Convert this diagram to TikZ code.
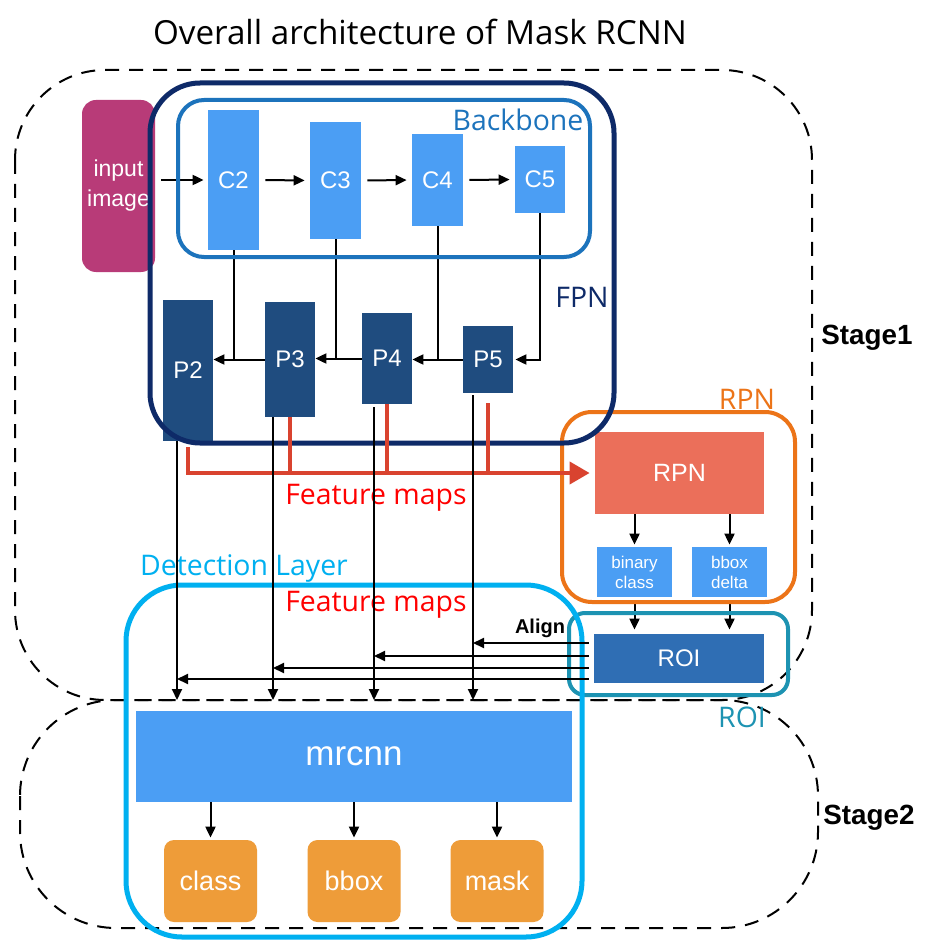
\documentclass[tikz,border=0pt]{standalone}
\usepackage{fontspec}
\setsansfont{Liberation Sans}
\newfontfamily\lblfont{Open Sans}
\usepackage{tikz}
\usetikzlibrary{positioning, arrows.meta, calc}
\definecolor{inPink}{HTML}{B83B78}
\definecolor{fpnNavy}{HTML}{0E2A68}
\definecolor{bbBlue}{HTML}{1C73BC}
\definecolor{cBlue}{HTML}{4B9EF4}
\definecolor{pBlue}{HTML}{1F4C7F}
\definecolor{fmRed}{HTML}{D9432F}
\definecolor{fmText}{HTML}{FF0000}
\definecolor{rpnOrange}{HTML}{EC7418}
\definecolor{rpnSalmon}{HTML}{EB6F5A}
\definecolor{roiBlue}{HTML}{2F6EB4}
\definecolor{roiTeal}{HTML}{1D93B2}
\definecolor{detCyan}{HTML}{00B0F0}
\definecolor{outOrange}{HTML}{EE9C39}

\begin{document}
\begin{tikzpicture}[x=0.5pt, y=-0.5pt, >={Triangle[length=5.5pt,width=5pt]},
  blk/.style={rectangle, inner sep=0pt, text=white, font=\sffamily\fontsize{12}{13}\selectfont},
  cnode/.style={blk, fill=cBlue, minimum width=25.5pt},
  pnode/.style={blk, fill=pBlue, minimum width=25pt},
  grp/.style={rounded corners=#1, line width=2pt},
  stage/.style={draw=black, line width=1pt, dash pattern=on 7pt off 5pt, rounded corners=45pt},
  lbl/.style={font=\lblfont\fontsize{14.2}{16}\selectfont},
  bold/.style={font=\sffamily\bfseries\fontsize{13.9}{16}\selectfont},
  fm/.style={draw=fmRed, line width=2pt},
  link/.style={line width=1pt}]
  \fill[white] (0,0) rectangle (930,941);
  \useasboundingbox (0,0) rectangle (930,941);

  % the two stages
  \draw[stage] (15,70) rectangle (812,700);
  \draw[stage, rounded corners=48pt] (20,700) rectangle (818,928);
  \node[bold] (s1) at (867,338) {Stage1};
  \node[bold] (s2) at (869,818) {Stage2};
  \node[font=\lblfont\fontsize{16.6}{19}\selectfont] (title) at (420,32) {Overall architecture of Mask RCNN};

  % input and backbone
  \node[blk, fill=inPink, rounded corners=7pt, minimum width=36.5pt, minimum height=86pt, align=center,
    font=\sffamily\fontsize{11.5}{15}\selectfont] (img) at (118.5,186) {input\\image};
  \node[cnode, minimum height=70pt] (C2) at (233.5,180) {C2};
  \node[cnode, minimum height=58.5pt] (C3) at (335.5,180.5) {C3};
  \node[cnode, minimum height=46pt] (C4) at (437.5,180) {C4};
  \node[cnode, minimum height=33.5pt, minimum width=25pt] (C5) at (540,179.5) {C5};
  \draw[->, link, shorten <=3pt, shorten >=2pt] (img.east |- C2.west) -- (C2.west);
  \foreach \a/\b in {C2/C3, C3/C4, C4/C5}
    \draw[->, link, shorten <=3pt, shorten >=2.5pt] (\a.east) -- (\b.west);

  % pyramid
  \node[pnode, minimum height=70.5pt] (P2) at (188,370.5) {P2};
  \node[pnode, minimum height=57.5pt] (P3) at (290,359.5) {P3};
  \node[pnode, minimum height=45.5pt] (P4) at (387,358.5) {P4};
  \node[pnode, minimum height=33.5pt] (P5) at (488,359.5) {P5};
  \draw[->, link] (P3.west) -- (P2.east |- P3.west);
  \draw[->, link] (P4.west) -- (P3.east |- P4.west);
  \draw[->, link] (P5.west) -- (P4.east |- P5.west);
  \draw[link] (C2.south) -- (C2.south |- P3.west);
  \draw[link] (C3.south) -- (C3.south |- P4.west);
  \draw[link] (C4.south) -- (C4.south |- P5.west);
  \draw[->, link, shorten >=1pt] (C5.south) |- (P5.east);

  % rpn and roi
  \node[blk, fill=rpnSalmon, minimum width=84.5pt, minimum height=41pt,
    font=\sffamily\fontsize{12.5}{14}\selectfont] (rpn) at (679.5,473) {RPN};
  \node[blk, fill=cBlue, minimum width=37.5pt, minimum height=25pt, align=center,
    font=\sffamily\fontsize{8.5}{10}\selectfont] (bin) at (634.5,572) {binary\\class};
  \node[blk, fill=cBlue, minimum width=37.5pt, minimum height=25pt, align=center,
    font=\sffamily\fontsize{8.5}{10}\selectfont] (bbd) at (729.5,572) {bbox\\delta};
  \node[blk, fill=roiBlue, minimum width=85pt, minimum height=24.5pt,
    font=\sffamily\fontsize{12}{14}\selectfont] (roi) at (679,658.5) {ROI};
  \foreach \o in {bin, bbd}{
    \draw[->, link, shorten >=1pt] (rpn.south -| \o) -- (\o.north);
    \draw[->, link, shorten <=1.5pt, shorten >=2pt] (\o.south) -- (\o.south |- roi.north);
  }
  \draw[grp=15pt, draw=rpnOrange] (562,412) rectangle (795,602);
  \node[lbl, text=rpnOrange] (rpnl) at (747,399) {RPN};
  \draw[grp=8pt, draw=roiTeal] (569,613) rectangle (788,695);
  \node[lbl, text=roiTeal] (roil) at (742,717) {ROI};

  % groups on top
  \draw[grp=13pt, draw=bbBlue] (178,100) rectangle (590,257);
  \node[lbl, text=bbBlue] (bbl) at (518,120) {Backbone};
  \draw[grp=25pt, draw=fpnNavy, line width=2.5pt] (150,83) rectangle (614,443);
  \node[lbl, text=fpnNavy] (fpnl) at (582,297) {FPN};

  % feature maps to rpn
  \draw[fm, -{Triangle[length=10pt,width=11pt]}, shorten >=2.5pt] ([yshift=-3pt]P2.south) |- (rpn.west);
  \foreach \nd/\sh in {P3/0pt, P4/0pt, P5/-5pt}
    \draw[fm] ([yshift=\sh]\nd.south) -- (\nd.south |- rpn.west);
  \node[lbl, text=fmText] (fm1) at (376,498) {Feature maps};
  \node[lbl, text=fmText] (fm2) at (376,605) {Feature maps};

  % detection layer
  \node[blk, fill=cBlue, minimum width=218pt, minimum height=45.5pt,
    font=\sffamily\fontsize{17.5}{20}\selectfont] (mr) at (354,756.5) {mrcnn};
  \node[blk, fill=outOrange, rounded corners=5pt, minimum width=46.5pt, minimum height=41pt,
    font=\sffamily\fontsize{13.5}{15}\selectfont] (cls) at (210.5,881) {class};
  \node[blk, fill=outOrange, rounded corners=5pt, minimum width=46.5pt, minimum height=41pt,
    font=\sffamily\fontsize{13.5}{15}\selectfont] (bb) at (354,881) {bbox};
  \node[blk, fill=outOrange, rounded corners=5pt, minimum width=46.5pt, minimum height=41pt,
    font=\sffamily\fontsize{13.5}{15}\selectfont] (msk) at (497,881) {mask};
  \foreach \o in {cls, bb, msk}
    \draw[->, link, shorten >=1pt] (mr.south -| \o) -- (\o.north);
  \draw[grp=28pt, draw=detCyan, line width=2.5pt] (126,585) rectangle (582,937);
  \node[lbl, text=detCyan] (detl) at (244,568) {Detection Layer};

  % maps down and roi align
  \coordinate (tip) at (0,700);
  \coordinate (d2) at ($(P2.south)+(-11,0)$);
  \coordinate (d3) at ($(P3.south)+(-17,0)$);
  \coordinate (d4) at ($(P4.south)+(-13,3)$);
  \coordinate (d5) at ($(P5.south)+(-15,2)$);
  \foreach \col in {d2, d3, d4, d5}
    \draw[->, link] (\col) -- (\col |- tip);
  \foreach \col/\dy in {d5/-15.5, d4/-2.5, d3/9.5, d2/20.5}{
    \coordinate (a) at ($(roi.west)+(0,\dy)$);
    \draw[->, link, shorten <=2.5pt] (a) -- (a -| \col);
  }
  \node[font=\sffamily\bfseries\fontsize{10}{12}\selectfont] (aln) at (540,628) {Align};
\end{tikzpicture}
\end{document}
